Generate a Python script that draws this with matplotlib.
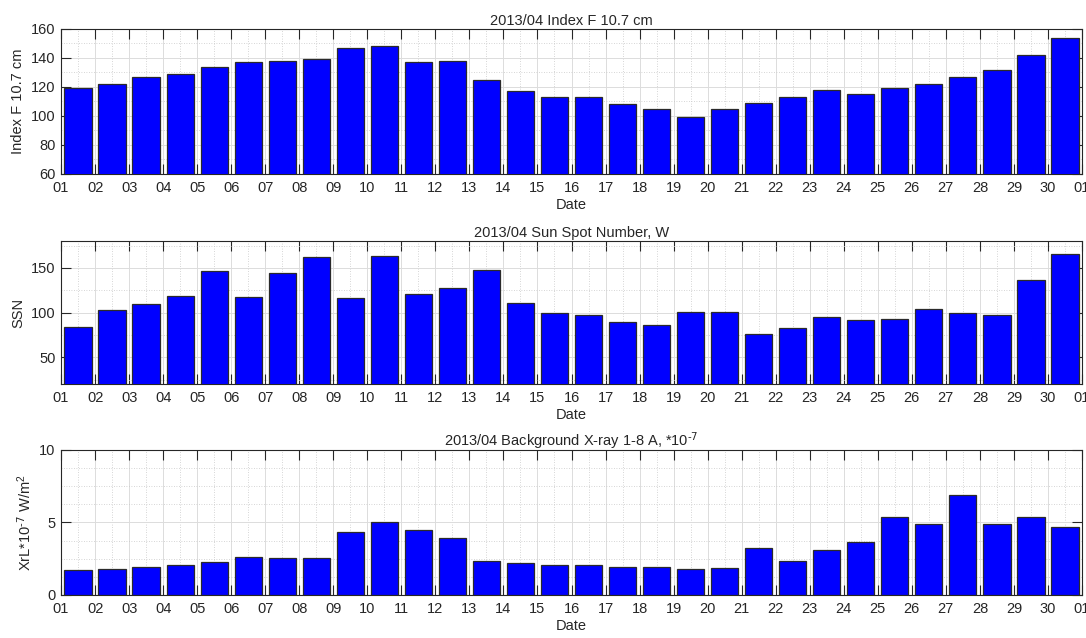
import numpy as np
import matplotlib.pyplot as plt
from matplotlib.ticker import MultipleLocator, FixedLocator

plt.rcParams['font.family'] = ['Liberation Sans', 'DejaVu Sans']
plt.rcParams['mathtext.default'] = 'regular'
plt.rcParams['font.size'] = 10

days = np.arange(1, 31)
tick_labels = [f"{d:02d}" for d in range(1, 31)] + ["01"]

f107 = [119, 122, 127, 129, 134, 137, 138, 139, 147, 148,
        137, 138, 125, 117, 113, 113, 108, 105, 99, 105,
        109, 113, 118, 115, 119, 122, 127, 132, 142, 154]

ssn = [84, 103, 109, 119, 146, 117, 144, 162, 116, 163,
       121, 128, 148, 111, 99, 97, 89, 86, 101, 101,
       76, 83, 95, 92, 93, 104, 100, 97, 136, 165]

xray = [1.73, 1.77, 1.91, 2.05, 2.30, 2.65, 2.53, 2.53, 4.35, 5.00,
        4.46, 3.91, 2.35, 2.18, 2.05, 2.05, 1.93, 1.93, 1.78, 1.87,
        3.25, 2.35, 3.08, 3.64, 5.39, 4.91, 6.91, 4.91, 5.39, 4.67]

panels = [
    dict(vals=f107, title="2013/04 Index F 10.7 cm", ylabel="Index F 10.7 cm",
         ylim=(60, 160), major=20, minor=10),
    dict(vals=ssn, title="2013/04 Sun Spot Number, W", ylabel="SSN",
         ylim=(20, 180), major=50, minor=25),
    dict(vals=xray, title=r"2013/04 Background X-ray 1-8 A, *10$^{\text{-7}}$",
         ylabel=r"XrL*10$^{\text{-7}}$ W/m$^2$", ylim=(0, 10), major=5, minor=1.25),
]

# axes boxes in figure fraction: left, bottom, width, height
boxes = [
    [0.0562, 0.7273, 0.9401, 0.2273],
    [0.0562, 0.3981, 0.9401, 0.2241],
    [0.0562, 0.0674, 0.9401, 0.2273],
]

txt = '#262626'
fig = plt.figure(figsize=(10.86, 6.38), dpi=100)

for p, box in zip(panels, boxes):
    ax = fig.add_axes(box)
    ax.set_axisbelow(True)
    ax.bar(days + 0.5, p['vals'], width=0.8, color='#0000ff',
           edgecolor='#2a2a2a', linewidth=0.9, zorder=3)
    ax.set_xlim(1, 31)
    ax.set_ylim(*p['ylim'])
    ax.set_xticks(np.arange(1, 32))
    ax.set_xticklabels(tick_labels)
    ax.xaxis.set_minor_locator(FixedLocator(np.arange(1.5, 31, 1)))
    lo, hi = p['ylim']
    first = np.ceil(lo / p['major']) * p['major']
    ax.set_yticks(np.arange(first, hi + 0.01, p['major']))
    ax.yaxis.set_minor_locator(MultipleLocator(p['minor']))

    ax.grid(which='major', color='#dcdcdc', linewidth=0.7, linestyle='-')
    ax.grid(which='minor', color='#c8c8c8', linewidth=0.6, linestyle=(0, (1, 2)))

    ax.tick_params(which='major', direction='in', length=7, width=0.8,
                   color='#262626', top=True, right=True, labelsize=10.5,
                   labelcolor=txt)
    ax.tick_params(axis='x', which='major', pad=5)
    ax.tick_params(axis='y', which='major', pad=4)
    ax.tick_params(which='minor', length=0)
    for s in ax.spines.values():
        s.set_color('#262626')
        s.set_linewidth(0.8)

    ax.set_title(p['title'], fontsize=10.5, color=txt, pad=3)
    ax.set_xlabel("Date", fontsize=10.5, color=txt, labelpad=2)
    ax.set_ylabel(p['ylabel'], fontsize=10.5, color=txt, labelpad=4)

fig.savefig("out.png", dpi=100)
